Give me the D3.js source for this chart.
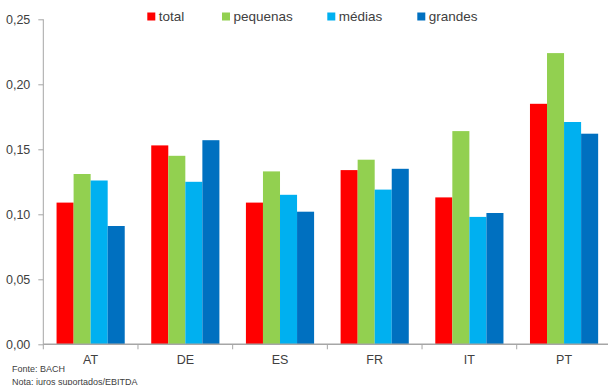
<!DOCTYPE html>
<html>
<head>
<meta charset="utf-8">
<script src="https://cdn.jsdelivr.net/npm/d3@7"></script>
<style>
  html, body { margin: 0; padding: 0; background: #fff; }
  svg { display: block; font-family: "Liberation Sans", "Noto Sans", sans-serif; }
</style>
</head>
<body>
<svg id="chart" width="608" height="385"></svg>
<script>
// Interest paid / EBITDA by country and firm size
const countries = ["AT", "DE", "ES", "FR", "IT", "PT"];
const seriesNames = ["total", "pequenas", "médias", "grandes"];
const seriesColors = ["#FF0000", "#92D050", "#00B0F0", "#0070C0"];
const total    = [0.109, 0.153, 0.109, 0.134, 0.113, 0.185];
const pequenas = [0.131, 0.145, 0.133, 0.142, 0.164, 0.224];
const medias   = [0.126, 0.125, 0.115, 0.119, 0.098, 0.171];
const grandes  = [0.091, 0.157, 0.102, 0.135, 0.101, 0.162];
const yTicks = [0, 0.05, 0.10, 0.15, 0.20, 0.25];
const sources = ["Fonte: BACH", "Nota: juros suportados/EBITDA"];

const seriesValues = [total, pequenas, medias, grandes];
const svg = d3.select("#chart");
const textColor = "#404040";
const axisColor = "#A6A6A6";

const x0 = d3.scaleBand().domain(countries).range([43.3, 611.4]);
const groupPad = x0.bandwidth() * 0.14;
const x1 = d3.scaleBand().domain(seriesNames).range([groupPad, x0.bandwidth() - groupPad]);
const y = d3.scaleLinear().domain([0, 0.25]).range([344.3, 19.3]);

const fmt = d => d3.format(".2f")(d).replace(".", ",");

// Bars
const groups = svg.append("g").selectAll("g")
  .data(countries)
  .join("g")
  .attr("transform", d => `translate(${x0(d)},0)`);

groups.selectAll("rect")
  .data((c, i) => seriesNames.map((s, j) => ({ s, j, v: seriesValues[j][i] })))
  .join("rect")
  .attr("x", d => x1(d.s))
  .attr("width", x1.bandwidth())
  .attr("y", d => y(d.v))
  .attr("height", d => y(0) - y(d.v))
  .attr("fill", d => seriesColors[d.j]);

// Y axis
const yAxis = svg.append("g")
  .attr("transform", `translate(${x0.range()[0]},0)`)
  .call(d3.axisLeft(y).tickValues(yTicks).tickFormat(fmt).tickSize(5).tickPadding(8));
yAxis.select(".domain").attr("stroke", axisColor).attr("d", `M0,${y(0.25)}V${y(0) + 5}`);
yAxis.selectAll(".tick line").attr("stroke", axisColor);
yAxis.selectAll(".tick text").attr("fill", textColor).style("font-size", "12.5px");

// X axis with ticks at category boundaries
const xAxisG = svg.append("g").attr("transform", `translate(0,${y(0)})`);
xAxisG.append("line")
  .attr("x1", x0.range()[0]).attr("x2", 608)
  .attr("stroke", axisColor).attr("stroke-width", 1.5);
xAxisG.selectAll("line.tick")
  .data(countries.slice(1))
  .join("line")
  .attr("class", "tick")
  .attr("x1", d => x0(d)).attr("x2", d => x0(d))
  .attr("y1", 0).attr("y2", 5)
  .attr("stroke", axisColor);
xAxisG.selectAll("text")
  .data(countries)
  .join("text")
  .attr("x", d => x0(d) + x0.bandwidth() / 2)
  .attr("y", 20)
  .attr("text-anchor", "middle")
  .attr("fill", textColor)
  .style("font-size", "12.5px")
  .text(d => d);

// Legend
const legendX = [147.3, 222, 327.3, 417.3];
const legend = svg.append("g").selectAll("g")
  .data(seriesNames)
  .join("g")
  .attr("transform", (d, i) => `translate(${legendX[i]},12.5)`);
legend.append("rect").attr("width", 8).attr("height", 8).attr("fill", (d, i) => seriesColors[i]);
legend.append("text")
  .attr("x", 11.5).attr("y", 8.5)
  .attr("fill", textColor)
  .style("font-size", "13.5px")
  .text(d => d);

// Source notes
svg.append("g").selectAll("text")
  .data(sources)
  .join("text")
  .attr("x", 12)
  .attr("y", (d, i) => 372 + i * 12.5)
  .attr("fill", textColor)
  .style("font-size", "9px")
  .text(d => d);
</script>
</body>
</html>
